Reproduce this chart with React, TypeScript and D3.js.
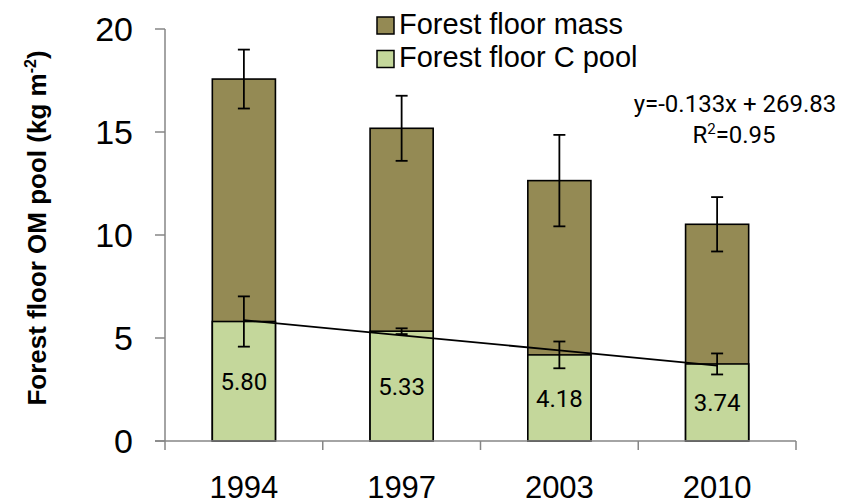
import React from "react";
import * as d3 from "d3";

const years = ["1994", "1997", "2003", "2010"];
const massTotal = [17.57, 15.18, 12.64, 10.52];
const massErr = [1.43, 1.58, 2.22, 1.32];
const cPool = [5.8, 5.33, 4.18, 3.74];
const cErr = [1.22, 0.14, 0.65, 0.51];
const yTicks = [0, 5, 10, 15, 20];
const legendLabels = ["Forest floor mass", "Forest floor C pool"];
const equationText = "y=-0.133x + 269.83";
const r2Value = "0.95";

const W = 849;
const H = 504;
const MASS_COLOR = "#948A54";
const C_COLOR = "#C4D79B";
const AXIS_COLOR = "#868686";

export default function App() {
  const x = d3.scaleBand<string>().domain(years).range([165, 796]).paddingInner(0.6).paddingOuter(0.3);
  const y = d3.scaleLinear().domain([0, 20]).range([441, 29]);
  const bw = x.bandwidth();
  const step = x.step();
  const cx = (d: string) => (x(d) as number) + bw / 2;

  // linear trend of C pool over category index
  const idx = cPool.map((_, i) => i);
  const mx = d3.mean(idx) as number;
  const my = d3.mean(cPool) as number;
  const slope =
    d3.sum(idx.map((i) => (i - mx) * (cPool[i] - my))) / d3.sum(idx.map((i) => (i - mx) ** 2));
  const icpt = my - slope * mx;
  const trend = d3
    .line<number>()
    .x((i) => cx(years[i]))
    .y((i) => y(icpt + slope * i));

  const boundaries = [0, 1, 2, 3, 4].map((i) => 165 + i * step);
  const sans = "Arial, 'Liberation Sans', sans-serif";
  const roboto = "Roboto, 'Liberation Sans', sans-serif";

  const errBar = (xc: number, v: number, e: number, key: string) => (
    <g key={key} stroke="#000" strokeWidth={1.8}>
      <line x1={xc} x2={xc} y1={y(v + e)} y2={y(v - e)} />
      <line x1={xc - 6} x2={xc + 6} y1={y(v + e)} y2={y(v + e)} />
      <line x1={xc - 6} x2={xc + 6} y1={y(v - e)} y2={y(v - e)} />
    </g>
  );

  return (
    <svg
      width={W}
      height={H}
      style={{ position: "absolute", left: 0, top: 0, background: "#fff" }}
      fontFamily={sans}
    >
      {years.map((d, i) => (
        <rect
          key={"m" + d}
          x={x(d)}
          y={y(massTotal[i])}
          width={bw}
          height={y(0) - y(massTotal[i])}
          fill={MASS_COLOR}
          stroke="#000"
          strokeWidth={1.6}
        />
      ))}
      {years.map((d, i) => (
        <rect
          key={"c" + d}
          x={x(d)}
          y={y(cPool[i])}
          width={bw}
          height={y(0) - y(cPool[i])}
          fill={C_COLOR}
          stroke="#000"
          strokeWidth={1.6}
        />
      ))}
      {years.map((d, i) => (
        <text
          key={"l" + d}
          x={cx(d)}
          y={y(cPool[i] / 2) + 9}
          textAnchor="middle"
          fontFamily={roboto}
          fontSize={24}
          fill="#000"
        >
          {cPool[i].toFixed(2)}
        </text>
      ))}
      <path d={trend(idx) as string} fill="none" stroke="#000" strokeWidth={1.8} />
      {years.map((d, i) => errBar(cx(d), massTotal[i], massErr[i], "em" + d))}
      {years.map((d, i) => errBar(cx(d), cPool[i], cErr[i], "ec" + d))}

      <g stroke={AXIS_COLOR} strokeWidth={1.5}>
        <line x1={165} x2={165} y1={y(20)} y2={y(0)} />
        {yTicks.map((t) => (
          <line key={"yt" + t} x1={155} x2={165} y1={y(t)} y2={y(t)} />
        ))}
        <line x1={155} x2={796} y1={y(0)} y2={y(0)} />
        {boundaries.map((b, i) => (
          <line key={"xt" + i} x1={b} x2={b} y1={y(0)} y2={y(0) + 9} />
        ))}
      </g>
      {yTicks.map((t) => (
        <text key={"ytl" + t} x={133} y={y(t) + 12} textAnchor="end" fontSize={34} fill="#000">
          {t}
        </text>
      ))}
      {years.map((d) => (
        <text key={"xl" + d} x={cx(d)} y={498} textAnchor="middle" fontSize={31} fill="#000">
          {d}
        </text>
      ))}
      <text
        transform={`translate(46,228) rotate(-90)`}
        textAnchor="middle"
        fontSize={26}
        fontWeight="bold"
        fill="#000"
      >
        Forest floor OM pool (kg m
        <tspan fontSize={16} dy={-10}>
          -2
        </tspan>
        <tspan dy={10}>)</tspan>
      </text>

      {legendLabels.map((lab, i) => (
        <g key={"lg" + i}>
          <rect
            x={377}
            y={17 + i * 33.5}
            width={17}
            height={17}
            fill={i === 0 ? MASS_COLOR : C_COLOR}
            stroke="#000"
            strokeWidth={1.5}
          />
          <text x={399} y={33.5 + i * 33.5} fontSize={29} fill="#000">
            {lab}
          </text>
        </g>
      ))}

      <text x={735} y={112} textAnchor="middle" fontFamily={roboto} fontSize={24} fill="#000">
        {equationText}
      </text>
      <text x={734} y={143} textAnchor="middle" fontFamily={roboto} fontSize={24} fill="#000">
        R<tspan fontSize={15} dy={-9}>2</tspan>
        <tspan dy={9}>={r2Value}</tspan>
      </text>
    </svg>
  );
}
